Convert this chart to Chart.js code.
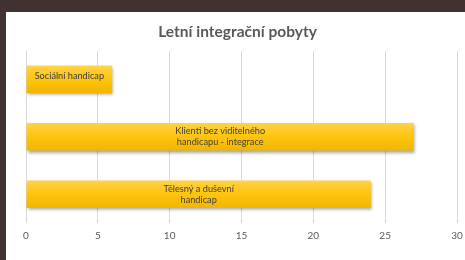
<!DOCTYPE html>
<html>
<head>
<meta charset="utf-8">
<script src="https://cdn.jsdelivr.net/npm/chart.js@4"></script>
<style>
  html, body { margin: 0; padding: 0; background: #3f3230; width: 465px; height: 260px; overflow: hidden; }
  #box { position: absolute; left: 6px; top: 12px; width: 459px; height: 248px; background: #ffffff; }
  canvas { display: block; }
</style>
</head>
<body>
<div id="box"><canvas id="c" width="459" height="248"></canvas></div>
<script>
const title = 'Letní integrační pobyty';
const categories = [
  ['Sociální handicap'],
  ['Klienti bez viditelného', 'handicapu - integrace'],
  ['Tělesný a duševní', 'handicap']
];
const values = [6, 27, 24];
const xTicks = [0, 5, 10, 15, 20, 25, 30];

const barLabelPlugin = {
  id: 'barLabels',
  beforeDatasetsDraw(chart) {
    const ctx = chart.ctx;
    ctx.save();
    ctx.shadowColor = 'rgba(0,0,0,0.35)';
    ctx.shadowBlur = 3;
    ctx.shadowOffsetX = 1;
    ctx.shadowOffsetY = 2;
  },
  afterDatasetsDraw(chart) {
    const ctx = chart.ctx;
    ctx.restore();
    const meta = chart.getDatasetMeta(0);
    ctx.save();
    ctx.fillStyle = '#404040';
    ctx.font = '9.2px Lato, "Open Sans", sans-serif';
    ctx.textAlign = 'center';
    ctx.textBaseline = 'middle';
    meta.data.forEach((bar, i) => {
      const lines = chart.data.labels[i];
      const cx = (bar.x + bar.base) / 2;
      const lh = 11;
      const startY = lines.length === 1 ? bar.y - 3 : bar.y - (lines.length - 1) * lh / 2;
      lines.forEach((ln, j) => ctx.fillText(ln, cx, startY + j * lh));
    });
    ctx.restore();
  }
};

new Chart(document.getElementById('c'), {
  type: 'bar',
  data: {
    labels: categories,
    datasets: [{
      data: values,
      backgroundColor(context) {
        const chart = context.chart;
        const ys = chart.scales && chart.scales.y;
        if (!ys || !chart.chartArea) return '#FFC000';
        const cy = ys.getPixelForValue(context.dataIndex);
        const h = ys.height / categories.length * 0.48;
        const g = chart.ctx.createLinearGradient(0, cy - h / 2, 0, cy + h / 2);
        g.addColorStop(0, '#FFD24A');
        g.addColorStop(0.45, '#FFC60F');
        g.addColorStop(1, '#F2B500');
        return g;
      },
      borderWidth: 0,
      barPercentage: 0.48,
      categoryPercentage: 1
    }]
  },
  options: {
    indexAxis: 'y',
    responsive: false,
    animation: false,
    devicePixelRatio: 1,
    layout: { padding: { left: 12, right: 8, top: 0, bottom: 11 } },
    plugins: {
      legend: { display: false },
      tooltip: { enabled: false },
      title: {
        display: true,
        text: title,
        color: '#595959',
        font: { family: 'Lato, "Open Sans", sans-serif', size: 15.5, weight: 'bold' },
        padding: { top: 11, bottom: 9 }
      }
    },
    scales: {
      x: {
        min: 0,
        max: 30,
        afterBuildTicks(axis) { axis.ticks = xTicks.map(v => ({ value: v })); },
        afterFit(axis) { axis.paddingLeft = 0; axis.paddingRight = 0; },
        grid: { color: '#d9d9d9', lineWidth: 1, drawTicks: false },
        border: { display: false },
        ticks: { color: '#595959', font: { family: 'Lato, "Open Sans", sans-serif', size: 10 }, padding: 7 }
      },
      y: {
        display: true,
        grid: { display: false },
        border: { display: false },
        ticks: { display: false },
        afterFit(axis) { axis.width = 8; }
      }
    }
  },
  plugins: [barLabelPlugin]
});
</script>
</body>
</html>
